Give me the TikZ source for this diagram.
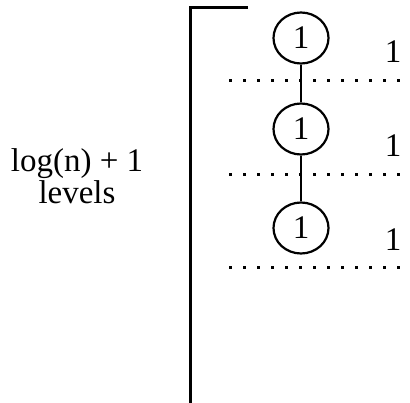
\documentclass[tikz,border=0pt]{standalone}
\usepackage{fontspec}
\setmainfont{Liberation Serif}
\usetikzlibrary{shapes.geometric}
\begin{document}
\begin{tikzpicture}[x=1pt,y=-1pt,
  levelnode/.style={draw,line width=2.2pt,ellipse,minimum width=55pt,minimum height=51pt,inner sep=0pt,font=\fontsize{33}{33}\selectfont},
  cost/.style={font=\fontsize{33}{32}\selectfont},
  sep/.style={line width=3pt,dash pattern=on 3pt off 11pt},
  edge/.style={line width=2.2pt}]
\useasboundingbox (0,0) rectangle (410,402);
% bracket spanning the levels
\coordinate (btop) at (248,7);
\coordinate (bbot) at (248,404);
\draw[line width=3pt] (btop) -- (190,7) -- (190,404) -- (bbot);
% nodes of the recursion tree
\node[levelnode] (n1) at (301,38) {1};
\node[levelnode] (n2) at (301,129) {1};
\node[levelnode] (n3) at (301,228) {1};
\draw[edge] (n1) -- (n2);
\draw[edge] (n2) -- (n3);
% level separators
\coordinate (s1a) at (229,80);  \coordinate (s1b) at (412,80);
\coordinate (s2a) at (229,174); \coordinate (s2b) at (412,174);
\coordinate (s3a) at (229,267); \coordinate (s3b) at (412,267);
\draw[sep] (s1a) -- (s1b);
\draw[sep] (s2a) -- (s2b);
\draw[sep] (s3a) -- (s3b);
% cost per level
\node[cost] (c1) at (393,52) {1};
\node[cost] (c2) at (393,146) {1};
\node[cost] (c3) at (393,240) {1};
% height label
\node[cost,align=center] (lbl) at (77,176) {log(n) + 1\\levels};
\end{tikzpicture}
\end{document}
